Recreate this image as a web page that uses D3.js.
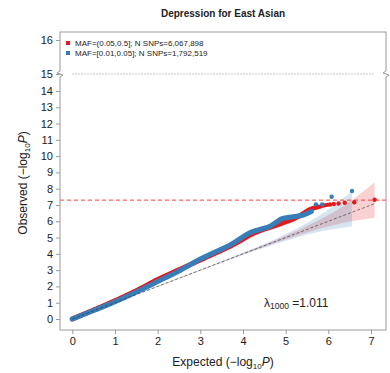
<!DOCTYPE html>
<html>
<head>
<meta charset="utf-8">
<script src="https://cdn.jsdelivr.net/npm/d3@7"></script>
<style>
  html, body { margin: 0; padding: 0; background: #fff; }
  svg { display: block; font-family: "Liberation Sans", Arial, sans-serif; }
</style>
</head>
<body>
<svg id="chart" width="390" height="373"></svg>
<script>
// Series labels and colours
const seriesNames = ["MAF=(0.05,0.5]; N SNPs=6,067,898", "MAF=[0.01,0.05]; N SNPs=1,792,519"];
const seriesColors = ["#e41a1c", "#377eb8"];

// Dense part of each QQ curve: [expected, observed]
const commonCurve = [[0,0],[0.5,0.55],[1,1.12],[1.5,1.74],[2,2.42],[2.5,3.02],[3,3.62],[3.5,4.22],[3.7,4.47],[3.9,4.75],[4.16,5.15],[4.4,5.42],[4.63,5.62],[4.95,5.92],[5.18,6.15],[5.34,6.35],[5.57,6.72],[5.75,6.88]];
const rareCurve = [[0,0],[0.5,0.52],[1,1.06],[1.5,1.66],[2,2.3],[2.5,2.95],[3,3.68],[3.5,4.3],[3.7,4.55],[3.9,4.88],[4.16,5.3],[4.4,5.5],[4.67,5.75],[4.8,5.98],[4.9,6.15],[5.18,6.28],[5.41,6.38],[5.6,6.6]];

// Top-ranked SNPs drawn as individual points
const commonTop = [[5.806,6.9],[5.852,6.95],[5.908,6.98],[5.97,7.01],[6.04,7.03],[6.13,7.06],[6.24,7.09],[6.385,7.14],[6.607,7.17],[7.084,7.32]];
const rareTop = [[5.71,7.04],[5.855,7.04],[6.077,7.51],[6.554,7.86]];

// 95% confidence bands: expected, lower, upper
const commonBandX  = [0, 3.783, 4.786, 5.314, 5.806, 6.130, 6.385, 6.607, 7.084];
const commonBandLo = [0, 3.757, 4.703, 5.157, 5.551, 5.773, 5.924, 6.037, 6.216];
const commonBandHi = [0, 3.811, 4.873, 5.478, 6.103, 6.573, 6.991, 7.399, 8.380];
const rareBandX  = [0, 3.254, 4.256, 4.784, 5.276, 5.600, 5.855, 6.077, 6.554];
const rareBandLo = [0, 3.228, 4.173, 4.627, 5.021, 5.243, 5.394, 5.507, 5.686];
const rareBandHi = [0, 3.282, 4.343, 4.948, 5.573, 6.043, 6.461, 6.869, 7.850];

// Axis ticks
const xTicks = [0,1,2,3,4,5,6,7];
const yTicksLow = [0,1,2,3,4,5,6,7,8,9,10,11,12,13,14];
const yTicksHigh = [15,16];
const gwsLine = 7.3;      // -log10(5e-8)
const diagMax = 7.084;
const lambdaValue = "1.011";
const title = "Depression for East Asian";

const svg = d3.select("#chart");
const box = {left: 60, right: 386, top: 32, bottom: 330};

const x = d3.scaleLinear().domain([0, 7]).range([72.3, 371]);
const y = d3.scaleLinear().domain([0, 14]).range([319, 91]);
const yHigh = d3.scaleLinear().domain([15, 16]).range([74, 40]);

const frameColor = "#9a9a9a";
const textColor = "#222";

// Title
svg.append("text").attr("x", 223).attr("y", 17).attr("text-anchor", "middle")
  .attr("font-size", 10).attr("font-weight", "bold").attr("fill", textColor).text(title);

// Confidence bands
function band(xs, lo, hi, color) {
  const pts = xs.map((v, i) => [v, lo[i], hi[i]]);
  const area = d3.area().x(d => x(d[0])).y0(d => y(d[1])).y1(d => y(d[2]));
  svg.append("path").attr("d", area(pts)).attr("fill", color).attr("fill-opacity", 0.2).attr("stroke", "none");
}
band(commonBandX, commonBandLo, commonBandHi, seriesColors[0]);
band(rareBandX, rareBandLo, rareBandHi, seriesColors[1]);

// Genome-wide significance line
svg.append("line").attr("x1", box.left).attr("x2", box.right)
  .attr("y1", y(gwsLine)).attr("y2", y(gwsLine))
  .attr("stroke", "#ff3b3b").attr("stroke-width", 1).attr("stroke-dasharray", "4,3");

// QQ curves (dense ranks as a thick trace, top ranks as points)
const line = d3.line().x(d => x(d[0])).y(d => y(d[1])).curve(d3.curveMonotoneX);
function series(curve, top, color) {
  svg.append("path").attr("d", line(curve)).attr("fill", "none").attr("stroke", color)
    .attr("stroke-width", 5).attr("stroke-linecap", "round").attr("stroke-linejoin", "round");
  svg.append("g").selectAll("circle").data(top).join("circle")
    .attr("cx", d => x(d[0])).attr("cy", d => y(d[1])).attr("r", 2.2).attr("fill", color);
}
series(commonCurve, commonTop, seriesColors[0]);
series(rareCurve, rareTop, seriesColors[1]);

// Null expectation
svg.append("line").attr("x1", x(0)).attr("y1", y(0)).attr("x2", x(diagMax)).attr("y2", y(diagMax))
  .attr("stroke", "#333").attr("stroke-width", 0.8).attr("stroke-dasharray", "3,2").attr("stroke-opacity", 0.8);

// Axis break marker line
svg.append("line").attr("x1", 72).attr("x2", 375).attr("y1", yHigh(15)).attr("y2", yHigh(15))
  .attr("stroke", "#c8c8c8").attr("stroke-width", 1).attr("stroke-dasharray", "2,1");

// Frame
svg.append("rect").attr("x", box.left).attr("y", box.top)
  .attr("width", box.right - box.left).attr("height", box.bottom - box.top)
  .attr("fill", "none").attr("stroke", frameColor).attr("stroke-width", 1);

// Break zigzags on both sides
[box.left, box.right].forEach(bx => {
  const yb = yHigh(15);
  svg.append("rect").attr("x", bx - 2).attr("y", yb - 3).attr("width", 4).attr("height", 6).attr("fill", "#fff");
  svg.append("path").attr("d", `M${bx},${yb - 3} L${bx - 3},${yb - 1} L${bx + 3},${yb + 1} L${bx},${yb + 3}`)
    .attr("fill", "none").attr("stroke", frameColor).attr("stroke-width", 1);
});

// X axis
const xAxis = d3.axisBottom(x).tickValues(xTicks).tickSize(4).tickPadding(3).tickFormat(d3.format("d"));
const gx = svg.append("g").attr("transform", `translate(0,${box.bottom})`).call(xAxis);
gx.select(".domain").remove();
gx.selectAll("line").attr("stroke", frameColor);
gx.selectAll("text").attr("font-size", 11).attr("fill", textColor).attr("font-family", "Liberation Sans, Arial, sans-serif");

// Y axis (lower segment and upper segment)
function yAxisPart(scale, ticks) {
  const ax = d3.axisLeft(scale).tickValues(ticks).tickSize(4).tickPadding(3).tickFormat(d3.format("d"));
  const g = svg.append("g").attr("transform", `translate(${box.left},0)`).call(ax);
  g.select(".domain").remove();
  g.selectAll("line").attr("stroke", frameColor);
  g.selectAll("text").attr("font-size", 11).attr("fill", textColor).attr("font-family", "Liberation Sans, Arial, sans-serif");
}
yAxisPart(y, yTicksLow);
yAxisPart(yHigh, yTicksHigh);

// Axis titles with -log10(P)
function axisTitle(g, word) {
  const t = g.append("text").attr("text-anchor", "middle").attr("font-size", 12).attr("fill", textColor);
  t.append("tspan").text(word + "  (\u2212log");
  t.append("tspan").attr("font-size", 8).attr("dy", 3).text("10");
  t.append("tspan").attr("dy", -3).attr("font-style", "italic").text("P");
  t.append("tspan").text(")");
}
axisTitle(svg.append("g").attr("transform", "translate(223,366)"), "Expected");
axisTitle(svg.append("g").attr("transform", "translate(27,183) rotate(-90)"), "Observed");

// Legend
const legend = svg.append("g");
seriesNames.forEach((name, i) => {
  const ly = 43 + i * 10;
  legend.append("rect").attr("x", 66).attr("y", ly - 2).attr("width", 4).attr("height", 4).attr("fill", seriesColors[i]);
  legend.append("text").attr("x", 75).attr("y", ly + 3).attr("font-size", 8).attr("fill", textColor).text(name);
});

// Genomic inflation factor
const lam = svg.append("text").attr("x", 264).attr("y", 307).attr("font-size", 12).attr("fill", textColor);
lam.append("tspan").text("\u03bb");
lam.append("tspan").attr("font-size", 8.5).attr("dy", 2).text("1000");
lam.append("tspan").attr("dy", -2).text(" =" + lambdaValue);
</script>
</body>
</html>
